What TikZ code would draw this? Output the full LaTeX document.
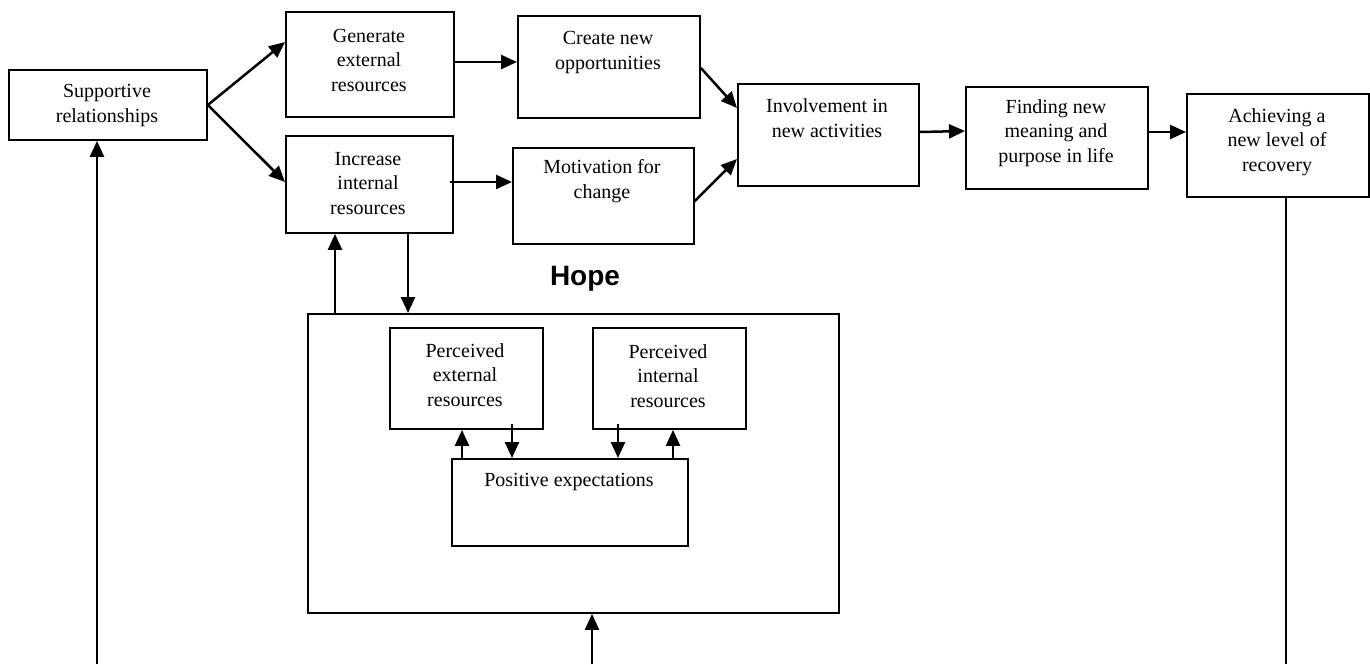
\documentclass[tikz,border=0pt]{standalone}
\usepackage{fontspec}
\setmainfont{Liberation Serif}
\newfontfamily\hopefont{Liberation Sans}
\usetikzlibrary{arrows.meta}
\tikzset{
  bx/.style={draw=black, line width=1.9pt, rectangle, inner sep=0pt, anchor=north west},
  txt/.style={align=center, inner sep=0pt, font=\fontsize{20}{24.5}\selectfont},
  arr/.style={line width=2.5pt, -{Triangle[length=16pt,width=14pt]}},
  plain/.style={line width=1.8pt},
}
\begin{document}
\begin{tikzpicture}[x=1pt,y=-1pt]
\useasboundingbox[fill=white] (0,0) rectangle (1370,664);
% boxes
\node[bx, minimum width=198pt, minimum height=70pt] (sup) at (8,69) {};
\node[bx, minimum width=168pt, minimum height=105pt] (gen) at (285,11) {};
\node[bx, minimum width=167pt, minimum height=97pt] (inc) at (285,135) {};
\node[bx, minimum width=182pt, minimum height=102pt] (cre) at (517,15) {};
\node[bx, minimum width=181pt, minimum height=96pt] (mot) at (512,147) {};
\node[bx, minimum width=181pt, minimum height=102pt] (inv) at (737,83) {};
\node[bx, minimum width=182pt, minimum height=102pt] (fin) at (965,86) {};
\node[bx, minimum width=182pt, minimum height=103pt] (ach) at (1186,93) {};
\node[bx, minimum width=531pt, minimum height=299pt] (hope) at (307,313) {};
\node[bx, minimum width=153pt, minimum height=101pt] (pext) at (389,327) {};
\node[bx, minimum width=153pt, minimum height=101pt] (pint) at (592,327) {};
\node[bx, minimum width=236pt, minimum height=87pt] (pos) at (451,458) {};
% texts
\node[txt] (tsup) at (107,105.5) {Supportive\\relationships};
\node[txt] (tgen) at (369,60) {Generate\\external\\resources};
\node[txt] (tinc) at (368,183.5) {Increase\\internal\\resources};
\node[txt] (tcre) at (608,52.5) {Create new\\opportunities};
\node[txt] (tmot) at (602,181) {Motivation for\\change};
\node[txt] (tinv) at (827,118) {Involvement in\\new activities};
\node[txt] (tfin) at (1056,133) {Finding new\\meaning and\\purpose in life};
\node[txt] (tach) at (1277,142) {Achieving a\\new level of\\recovery};
\node[inner sep=0pt, font=\hopefont\bfseries\fontsize{28}{32}\selectfont] (thope) at (585,279) {Hope};
\node[txt] (tpext) at (465,375) {Perceived\\external\\resources};
\node[txt] (tpint) at (668,376) {Perceived\\internal\\resources};
\node[txt] (tpos) at (569,482) {Positive expectations};
% free ends
\coordinate (b1) at (97,664);
\coordinate (b2) at (592,664);
\coordinate (b3) at (1286,664);
% connectors
\draw[arr] (sup.east) -- (gen.west |- 0,42);
\draw[arr] (sup.east) -- (inc.west |- 0,182);
\draw[arr] (gen.east |- 0,62) -- (cre.west |- 0,62);
\draw[arr] ([xshift=-4pt]inc.east |- 0,182) -- (mot.west |- 0,182);
\draw[arr] (cre.east |- 0,68) -- (inv.west |- 0,108);
\draw[arr] ([xshift=-1pt]mot.east |- 0,202) -- (inv.west |- 0,159);
\draw[arr] (inv.east |- 0,132) -- (fin.west |- 0,131);
\draw[arr] (fin.east |- 0,132) -- (ach.west |- 0,132);
\draw[arr] (hope.north -| 335,0) -- (inc.south -| 335,0);
\draw[arr] (inc.south -| 408,0) -- (hope.north -| 408,0);
\draw[arr] (pos.north -| 462,0) -- (pext.south -| 462,0);
\draw[arr] ([yshift=6pt]pext.south -| 512,0) -- (pos.north -| 512,0);
\draw[arr] ([yshift=6pt]pint.south -| 618,0) -- (pos.north -| 618,0);
\draw[arr] (pos.north -| 673,0) -- (pint.south -| 673,0);
\draw[arr] (b2) -- (hope.south -| b2);
\draw[arr] (b1) -- (sup.south -| b1);
\draw[plain] (ach.south -| b3) -- (b3);
\end{tikzpicture}
\end{document}
